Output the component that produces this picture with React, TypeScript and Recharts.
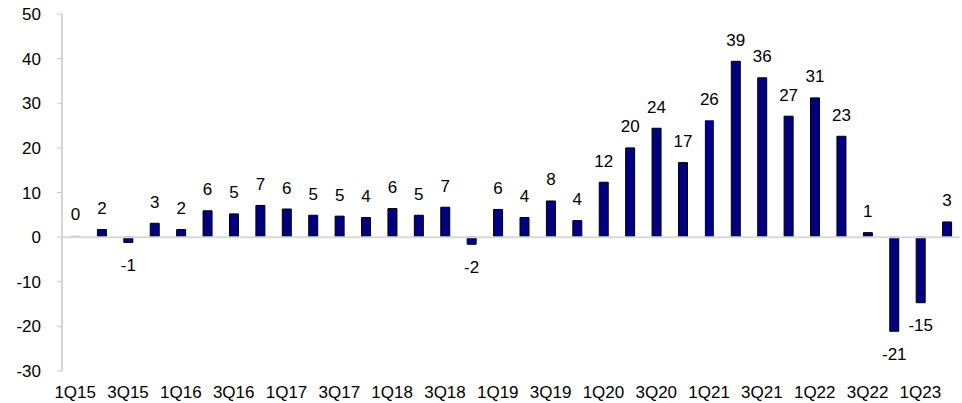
import { Bar, BarChart, Cell, ReferenceLine, XAxis, YAxis } from 'recharts';

// Quarterly series, 1Q15 .. 2Q23. Values.
const quarters = [
  '1Q15', '2Q15', '3Q15', '4Q15',
  '1Q16', '2Q16', '3Q16', '4Q16',
  '1Q17', '2Q17', '3Q17', '4Q17',
  '1Q18', '2Q18', '3Q18', '4Q18',
  '1Q19', '2Q19', '3Q19', '4Q19',
  '1Q20', '2Q20', '3Q20', '4Q20',
  '1Q21', '2Q21', '3Q21', '4Q21',
  '1Q22', '2Q22', '3Q22', '4Q22',
  '1Q23', '2Q23'
];

const values = [
  0.3, 1.7, -1.2, 3.1,
  1.7, 5.9, 5.2, 7.1,
  6.3, 4.9, 4.7, 4.4,
  6.4, 4.9, 6.7, -1.6,
  6.2, 4.4, 8.1, 3.7,
  12.3, 20.0, 24.4, 16.7,
  26.2, 39.4, 35.7, 27.1,
  31.2, 22.6, 1.0, -21.1,
  -14.7, 3.4
];

const yTicks = [-30, -20, -10, 0, 10, 20, 30, 40, 50];

const data = quarters.map((q, i) => ({ q, v: values[i] }));

const FONT = 'Arial, "Liberation Sans", sans-serif';
const NAVY = '#000080';
const FS = 17;

function ValueLabel(props: any) {
  const { x, y, width, height, value } = props;
  if (value == null) return null;
  const top = Math.min(y, y + height);
  const bottom = Math.max(y, y + height);
  const cy = value >= 0 ? top - 21 : bottom + 23;
  return (
    <text
      x={x + width / 2}
      y={cy}
      textAnchor="middle"
      dominantBaseline="central"
      fontSize={FS}
      fontFamily={FONT}
      fill="#000"
    >
      {Math.round(value)}
    </text>
  );
}

export default function App() {
  return (
    <div style={{ position: 'absolute', left: 0, top: 0, width: 962, height: 403, background: '#fff' }}>
      <BarChart width={962} height={403} data={data} margin={{ top: 14, right: 2, bottom: 2, left: 0 }}>
        <XAxis
          dataKey="q"
          interval={1}
          tickLine={false}
          axisLine={false}
          tickMargin={9}
          tick={{ fill: '#000', fontSize: FS, fontFamily: FONT }}
        />
        <YAxis
          domain={[-30, 50]}
          ticks={yTicks}
          width={62}
          tickSize={5}
          tickMargin={16}
          tickLine={{ stroke: '#c8c8c8' }}
          axisLine={{ stroke: '#c8c8c8', strokeWidth: 1.5 }}
          tick={{ fill: '#000', fontSize: FS, fontFamily: FONT }}
        />
        <ReferenceLine y={0} stroke="#d9d9d9" strokeWidth={2} />
        <Bar dataKey="v" barSize={9} fill={NAVY} stroke="#000" strokeWidth={1} label={<ValueLabel />} isAnimationActive={false}>
          {data.map((d, i) => (
            <Cell
              key={d.q}
              fill={i === 0 ? '#a6a6a6' : NAVY}
              stroke={i === 0 || d.q === '1Q21' ? 'none' : '#000'}
            />
          ))}
        </Bar>
      </BarChart>
    </div>
  );
}
